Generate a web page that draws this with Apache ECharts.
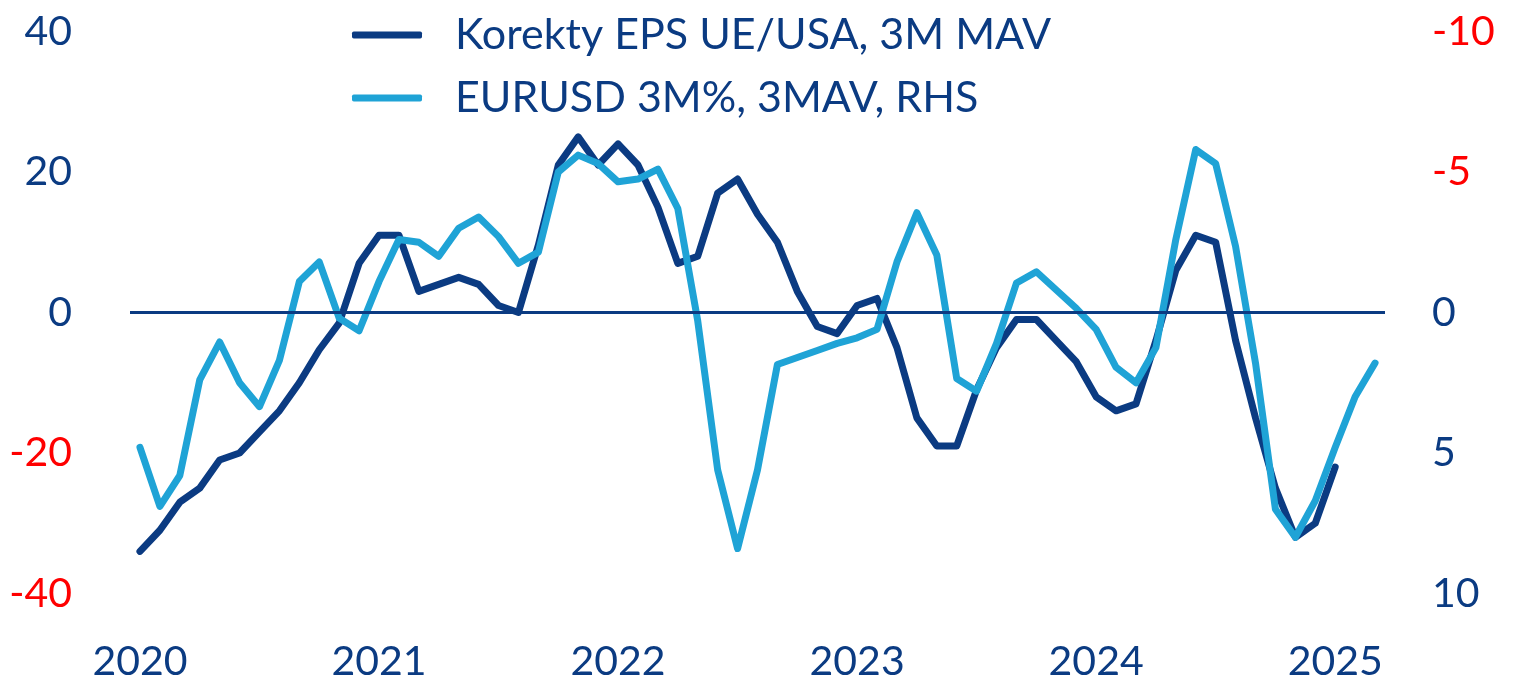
<!DOCTYPE html>
<html>
<head>
<meta charset="utf-8">
<script src="https://cdn.jsdelivr.net/npm/echarts@6/dist/echarts.min.js"></script>
<style>
html,body{margin:0;padding:0;background:#fff;}
#chart{width:1516px;height:694px;}
</style>
</head>
<body>
<div id="chart"></div>
<script>
// monthly, Jan 2020 - Mar 2025
var months = [];
for (var y = 2020; y <= 2025; y++) {
	for (var m = 1; m <= 12; m++) {
		if (y == 2025 && m > 3) break;
		months.push(y + '-' + (m < 10 ? '0' + m : m));
	}
}

var epsRevisions = [
	-34, -31, -27, -25, -21, -20, -17, -14, -10, -5.3, -1.5, 7,
	11, 11, 3, 4, 5, 4, 1, 0, 9.6, 21, 25, 21,
	24, 21, 15, 7, 8, 17, 19, 14, 10, 3, -2, -3,
	1, 2, -5, -15, -19, -19, -11, -5, -1, -1, -4, -7,
	-12, -14, -13, -4, 6, 11, 10, -4, -15, -25, -32, -30,
	-22, null, null
];

var eurusd = [
	4.8, 6.9, 5.8, 2.4, 1.05, 2.5, 3.35, 1.7, -1.1, -1.8, 0.2, 0.65,
	-1.1, -2.6, -2.5, -2.0, -3.0, -3.4, -2.7, -1.75, -2.15, -5.0, -5.6, -5.3,
	-4.65, -4.75, -5.1, -3.7, 0.3, 5.6, 8.4, 5.6, 1.85, 1.6, 1.35, 1.1,
	0.9, 0.6, -1.8, -3.55, -2.05, 2.35, 2.8, 1.1, -1.05, -1.45, -0.8, -0.15,
	0.6, 1.95, 2.5, 1.25, -2.6, -5.8, -5.3, -2.35, 1.8, 7.0, 8.0, 6.7,
	4.8, 3.0, 1.8
];

var seriesNames = ['Korekty EPS UE/USA, 3M MAV', 'EURUSD 3M%, 3MAV, RHS'];

var navy = '#0b3b82';
var lightBlue = '#1fa3d6';
var red = '#ff0000';
var font = 'Lato';

function labelColor(v) {
	return Number(v) < 0 ? red : navy;
}

var chart = echarts.init(document.getElementById('chart'));
var option = {
	backgroundColor: '#fff',
	animation: false,
	textStyle: { fontFamily: font },
	grid: { left: 130, right: 131, top: 31.5, bottom: 100.5, containLabel: false },
	legend: {
		data: seriesNames,
		orient: 'vertical',
		left: 347,
		top: 6,
		itemWidth: 70,
		itemHeight: 7,
		itemGap: 15,
		icon: 'roundRect',
		textStyle: { fontSize: 43, color: navy, fontFamily: font, lineHeight: 48, padding: [0, 0, 0, 28] }
	},
	xAxis: {
		type: 'category',
		data: months,
		boundaryGap: true,
		axisLine: { show: false },
		axisTick: { show: false },
		splitLine: { show: false },
		axisLabel: {
			interval: function (i) { return i % 12 === 0; },
			formatter: function (v) { return v.substring(0, 4); },
			fontSize: 41,
			color: navy,
			margin: 48,
			fontFamily: font
		}
	},
	yAxis: [
		{
			type: 'value',
			min: -40, max: 40, interval: 20,
			axisLine: { show: false },
			axisTick: { show: false },
			splitLine: { show: false },
			axisLabel: { fontSize: 41, margin: 58, color: labelColor, fontFamily: font }
		},
		{
			type: 'value',
			position: 'right',
			inverse: true,
			min: -10, max: 10, interval: 5,
			axisLine: { show: false },
			axisTick: { show: false },
			splitLine: { show: false },
			axisLabel: { fontSize: 41, margin: 47, color: labelColor, fontFamily: font }
		}
	],
	series: [
		{
			name: 'zero',
			type: 'line',
			data: [],
			z: 1,
			markLine: {
				silent: true,
				symbol: 'none',
				label: { show: false },
				lineStyle: { color: navy, width: 3, type: 'solid' },
				data: [{ yAxis: 0 }]
			}
		},
		{
			name: seriesNames[0],
			type: 'line',
			yAxisIndex: 0,
			data: epsRevisions,
			symbol: 'none',
			z: 3,
			color: navy,
			lineStyle: { width: 7, color: navy, cap: 'round', join: 'round' }
		},
		{
			name: seriesNames[1],
			type: 'line',
			yAxisIndex: 1,
			data: eurusd,
			symbol: 'none',
			z: 4,
			color: lightBlue,
			lineStyle: { width: 7, color: lightBlue, cap: 'round', join: 'round' }
		}
	]
};
chart.setOption(option);
</script>
</body>
</html>
